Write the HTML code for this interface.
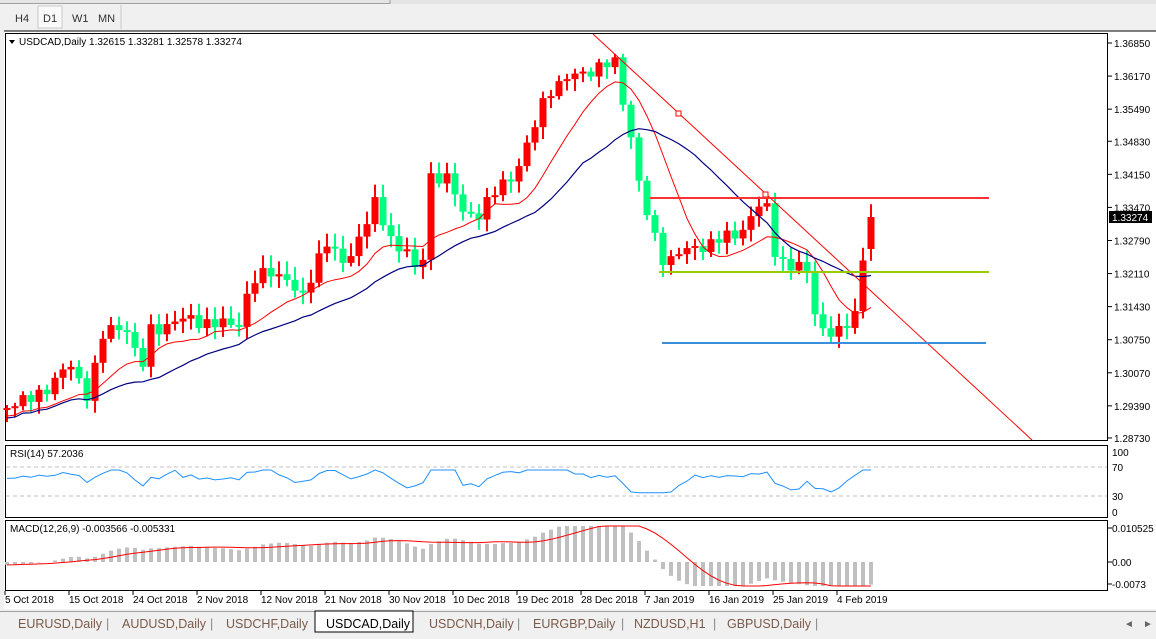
<!DOCTYPE html>
<html><head><meta charset="utf-8"><style>
body{margin:0;width:1156px;height:639px;background:#f0f0f0;overflow:hidden;font-family:"Liberation Sans",sans-serif}
svg{position:absolute;left:0;top:0}
</style></head><body>
<svg id="s" width="1156" height="639" xmlns="http://www.w3.org/2000/svg" font-family="Liberation Sans, sans-serif">
<rect x="0" y="0" width="1156" height="639" fill="#f0f0f0"/>
<rect x="0" y="0" width="1156" height="4" fill="#e4e4e4"/>
<line x1="0" y1="3.5" x2="390" y2="3.5" stroke="#a0a0a0"/>
<line x1="390" y1="0" x2="390" y2="4" stroke="#a0a0a0"/>
<rect x="38" y="6" width="24" height="22" fill="#fafafa" stroke="#c8c8c8"/>
<text x="15" y="22" font-size="11" fill="#333">H4</text>
<text x="43" y="22" font-size="11" fill="#333">D1</text>
<text x="72" y="22" font-size="11" fill="#333">W1</text>
<text x="98" y="22" font-size="11" fill="#333">MN</text>
<line x1="121" y1="5" x2="121" y2="29" stroke="#c8c8c8"/>
<rect x="4" y="31" width="1152" height="578" fill="#fff"/>
<line x1="4" y1="31" x2="1156" y2="31" stroke="#000"/>
<rect x="5.5" y="33.5" width="1102" height="407" fill="none" stroke="#000"/>
<rect x="5.5" y="445.5" width="1102" height="72" fill="none" stroke="#000"/>
<rect x="5.5" y="520.5" width="1102" height="70" fill="none" stroke="#000"/>
<g id="g"></g>
<path d="M9 40 l6 0 l-3 4z" fill="#000"/>
<text x="19" y="45" font-size="10" fill="#000">USDCAD,Daily  1.32615 1.33281 1.32578 1.33274</text>
<text x="10" y="457" font-size="10" fill="#000">RSI(14) 57.2036</text>
<text x="10" y="532" font-size="10" fill="#000">MACD(12,26,9) -0.003566 -0.005331</text>
<rect x="0" y="611" width="1156" height="28" fill="#f0f0f0"/>
<line x1="0" y1="611.5" x2="1156" y2="611.5" stroke="#a0a0a0"/>
<rect x="315" y="611" width="98" height="21" fill="#fff" stroke="#000"/>
<g font-size="12.5" fill="#7a5a4a">
<text x="18" y="628">EURUSD,Daily</text><text x="106" y="628" fill="#888">|</text>
<text x="122" y="628">AUDUSD,Daily</text><text x="210" y="628" fill="#888">|</text>
<text x="226" y="628">USDCHF,Daily</text>
<text x="326" y="628" fill="#000">USDCAD,Daily</text>
<text x="429" y="628">USDCNH,Daily</text><text x="517" y="628" fill="#888">|</text>
<text x="533" y="628">EURGBP,Daily</text><text x="621" y="628" fill="#888">|</text>
<text x="634" y="628">NZDUSD,H1</text><text x="713" y="628" fill="#888">|</text>
<text x="727" y="628">GBPUSD,Daily</text><text x="815" y="628" fill="#888">|</text>
</g>
<text x="1124" y="627" font-size="10" fill="#666">◄</text><text x="1143" y="627" font-size="10" fill="#666">►</text>
</svg>
<script>
const g=document.getElementById('g');let h='';
const P=p=>43+(1.3685-p)*4864;
const pl=[1.36850,1.36170,1.35490,1.34830,1.34150,1.33470,1.32790,1.32110,1.31430,1.30750,1.30070,1.29390,1.28730];
pl.forEach(p=>{const y=P(p);h+=`<line x1="1108" y1="${y}" x2="1112" y2="${y}" stroke="#000"/><text x="1114" y="${y+4}" font-size="10" fill="#000">${p.toFixed(5)}</text>`;});
[[100,452],[70,467],[30,496],[0,512]].forEach(a=>{h+=`<text x="1112" y="${a[1]+4}" font-size="10">${a[0]}</text>`;if(a[0]==70||a[0]==30)h+=`<line x1="6" y1="${a[1]}" x2="1107" y2="${a[1]}" stroke="#c0c0c0" stroke-dasharray="4,3"/>`;});
[["0.010525",528],["0.00",562],["-0.0073",584]].forEach(a=>{h+=`<line x1="1108" y1="${a[1]}" x2="1112" y2="${a[1]}" stroke="#000"/><text x="1112" y="${a[1]+4}" font-size="10">${a[0]}</text>`;});
const dl=["5 Oct 2018","15 Oct 2018","24 Oct 2018","2 Nov 2018","12 Nov 2018","21 Nov 2018","30 Nov 2018","10 Dec 2018","19 Dec 2018","28 Dec 2018","7 Jan 2019","16 Jan 2019","25 Jan 2019","4 Feb 2019"];
dl.forEach((d,i)=>{const x=5+64*i;h+=`<line x1="${x}" y1="591" x2="${x}" y2="595" stroke="#000"/><text x="${x}" y="603" font-size="10">${d}</text>`;});
const W=[[7,405],[30,400],[50,385],[70,365],[88,395],[105,330],[130,325],[140,380],[150,330],[190,318],[215,325],[240,322],[250,285],[270,270],[290,280],[300,305],[325,240],[345,265],[375,205],[395,245],[410,255],[420,290],[430,175],[450,180],[460,210],[480,215],[500,185],[520,165],[530,140],[545,95],[575,75],[600,68],[615,62],[622,95],[630,130],[640,190],[650,225],[665,262],[690,250],[720,240],[740,232],[760,205],[768,210],[775,250],[790,268],[805,265],[812,300],[822,330],[838,335],[850,318],[858,305],[864,250],[871,217]];
function wy(x){for(let i=0;i<W.length-1;i++){if(x>=W[i][0]&&x<=W[i+1][0]){const t=(x-W[i][0])/(W[i+1][0]-W[i][0]);return W[i][1]+t*(W[i+1][1]-W[i][1]);}}return W[W.length-1][1];}
const N=109;let C=[],O=[];let prev=410;
for(let i=0;i<N;i++){const x=7+8*i;let c=wy(x)+(i==N-1?0:Math.sin(i*2.7)*5+Math.cos(i*1.3)*3);let o=prev;if(i==N-1){o=249;c=217;}if(Math.abs(o-c)<1.5)c=o+(i%2?2:-2);C.push(c);O.push(o);prev=c;}
function sma(a,n){return a.map((v,i)=>{let s=0,k=0;for(let j=Math.max(0,i-n+1);j<=i;j++){s+=a[j];k++;}return s/k;});}
const m1=sma(C,9),m2=sma(C,20);
let p1='',p2='';m1.forEach((v,i)=>p1+=(i?'L':'M')+(7+8*i)+' '+(v+8).toFixed(1));m2.forEach((v,i)=>p2+=(i?'L':'M')+(7+8*i)+' '+(v+10).toFixed(1));
for(let i=0;i<N;i++){const x=7+8*i,o=O[i],c=C[i];const top=Math.min(o,c),bot=Math.max(o,c);const up=c<o;const col=up?'#ff0000':'#00ff7f';const hi=top-3-Math.abs(Math.sin(i*3.1))*10,lo=bot+3+Math.abs(Math.cos(i*2.3))*9;
h+=`<line x1="${x}" y1="${Math.max(34,hi)}" x2="${x}" y2="${Math.min(440,lo)}" stroke="${col}" stroke-width="2"/><rect x="${x-3.5}" y="${Math.max(34,top)}" width="7" height="${Math.max(2,bot-top)}" fill="${col}"/>`;}
h+=`<path d="${p1}" fill="none" stroke="#ff0000" stroke-width="1"/><path d="${p2}" fill="none" stroke="#000080" stroke-width="1.2"/>`;
h+=`<line x1="593" y1="34" x2="1032" y2="440" stroke="#ff0000"/><rect x="676" y="111" width="5" height="5" fill="#fff" stroke="#ff0000"/><rect x="763" y="192" width="5" height="5" fill="#fff" stroke="#ff0000"/>`;
h+=`<line x1="650" y1="198" x2="989" y2="198" stroke="#ff3030" stroke-width="2"/><line x1="659" y1="272" x2="989" y2="272" stroke="#99cc00" stroke-width="2"/><line x1="662" y1="343" x2="986" y2="343" stroke="#3a8fdc" stroke-width="2"/>`;
h+=`<rect x="1109" y="211" width="43" height="12" fill="#000"/><text x="1112" y="221" font-size="10" fill="#fff">1.33274</text>`;
let rs='';for(let i=0;i<N;i++){const x=7+8*i;let slope=(C[Math.max(0,i-4)]-C[i]);let v=56+slope*0.3;v=Math.max(32,Math.min(70,v));const y=512-v*0.6;rs+=(i?'L':'M')+x+' '+y.toFixed(1);}
h+=`<path d="${rs}" fill="none" stroke="#1e90ff"/>`;
const pr=C.map(y=>-y);function ema(a,n){let r=[],k=2/(n+1),e=a[0];a.forEach((v,i)=>{e=i?v*k+e*(1-k):v;r.push(e)});return r;}
const e12=ema(pr,12),e26=ema(pr,26);const mac=e12.map((v,i)=>v-e26[i]-3);const sig=sma(mac,9);
const sc=0.95;let sp='';mac.forEach((v,i)=>{const x=7+8*i;const y=562-v*sc;const yy=Math.max(526,Math.min(586,y));h+=`<rect x="${x-2}" y="${Math.min(562,yy)}" width="4" height="${Math.abs(yy-562)}" fill="#c0c0c0"/>`;sp+=(i?'L':'M')+x+' '+Math.max(526,Math.min(586,562-sig[i]*sc)).toFixed(1);});
h+=`<path d="${sp}" fill="none" stroke="#ff0000"/>`;
g.innerHTML=h;
</script>
</body></html>
